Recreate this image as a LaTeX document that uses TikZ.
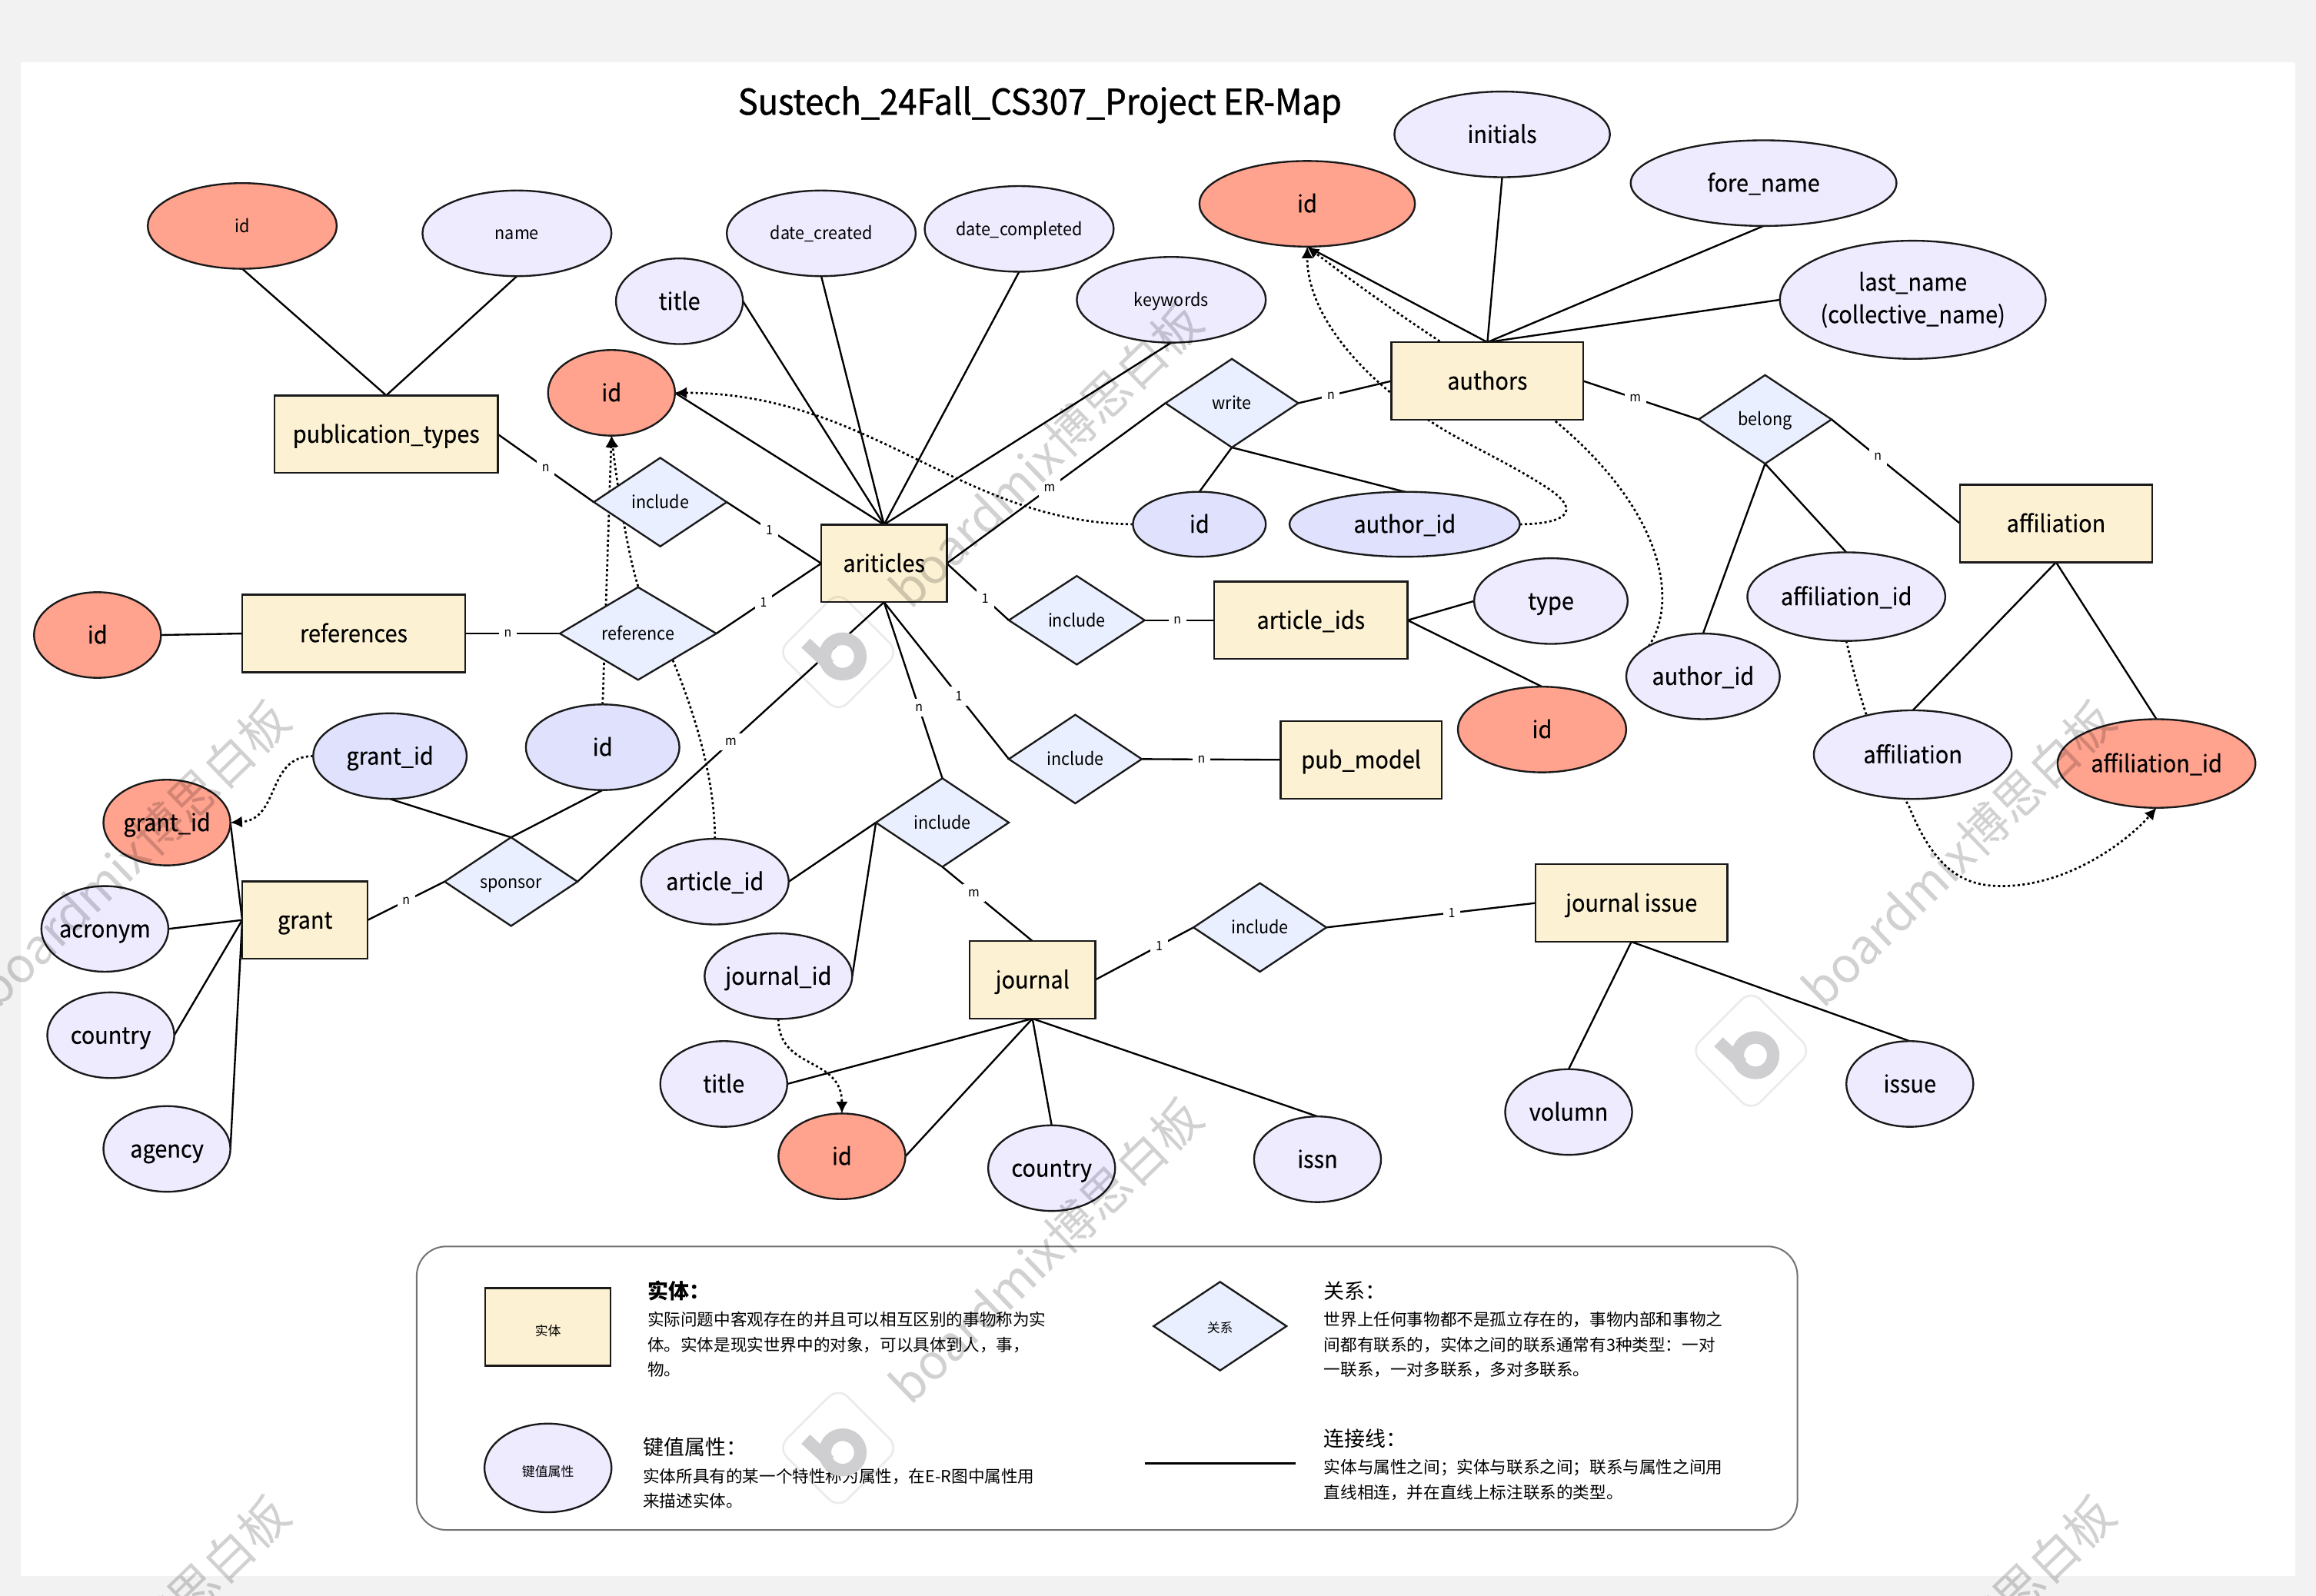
\documentclass[tikz,border=0pt]{standalone}
\usepackage{fontspec}
\setmainfont{Noto Sans CJK SC}
\newfontfamily\titlefont[FakeStretch=0.94,FakeBold=1]{Noto Sans CJK SC}
\newfontfamily\labelfont[FakeStretch=0.94,FakeBold=0.25]{Noto Sans CJK SC}
\newfontfamily\minorfont[FakeStretch=0.94]{Noto Sans CJK SC}
\usetikzlibrary{shapes.geometric}
\usetikzlibrary{backgrounds}
\usetikzlibrary{arrows.meta}

\definecolor{pagegray}{HTML}{F2F2F2}
\definecolor{attrfill}{HTML}{EFEBFF}
\definecolor{fkfill}{HTML}{DFE1FD}
\definecolor{pkfill}{HTML}{FFA28E}
\definecolor{entfill}{HTML}{FCF1D2}
\definecolor{relfill}{HTML}{E9EFFE}
\definecolor{inkline}{HTML}{1A1A1A}
\definecolor{logogray}{HTML}{CFCFD2}

\tikzset{
  bigtext/.style={font=\labelfont\fontsize{9.1}{12.5}\selectfont,text height=8.4pt,text depth=1.8pt},
  smalltext/.style={font=\minorfont\fontsize{6.8}{9}\selectfont,text height=6.3pt,text depth=1.4pt},
  attr/.style={ellipse,draw=inkline,line width=.7pt,fill=attrfill,inner xsep=-8mm,inner ysep=-4mm,outer sep=0pt,
    minimum width=#1*0.04cm,minimum height=1.16cm,bigtext,align=center},
  fkattr/.style={attr=#1,fill=fkfill},
  pkattr/.style={attr=#1,fill=pkfill},
  entity/.style={rectangle,draw=inkline,line width=.7pt,fill=entfill,inner sep=0pt,outer sep=0pt,
    minimum width=#1*0.02cm,minimum height=1.05cm,bigtext},
  relation/.style={diamond,draw=inkline,line width=.7pt,fill=relfill,inner sep=0pt,outer sep=0pt,
    minimum width=1.8cm,minimum height=1.2cm,smalltext},
  link/.style={draw=black,line width=.7pt},
  fklink/.style={draw=black,line width=.8pt,dash pattern=on .9pt off 1pt,-{Latex[length=4.5pt,width=4.5pt]}},
  card/.style={fill=white,inner sep=2pt,font=\minorfont\fontsize{5}{6}\selectfont},
  legendhead/.style={anchor=west,inner sep=0pt,font=\fontsize{8}{10}\selectfont},
  legendbody/.style={anchor=north west,inner sep=0pt,align=left,font=\fontsize{6.4}{9.6}\selectfont},
  mark text/.style={text=black,text opacity=.18,inner sep=0pt,font=\fontsize{18.7}{24}\selectfont,rotate=44},
  logo edge/.style={draw=black,opacity=.08,line width=.8pt,rounded corners=.18cm}
}

\begin{document}
\begin{tikzpicture}[x=0.02cm,y=-0.02cm]
\useasboundingbox (0,0) rectangle (1568,1080.7);

\node [inner sep=0pt,font=\titlefont\fontsize{13.7}{16}\selectfont] (mapTitle) at (704,71) {Sustech\_24Fall\_CS307\_Project ER-Map};

% publication types
\node [pkattr=64,smalltext] (typeId) at (164,153) {id};
\node [attr=64,smalltext] (typeName) at (350,158) {name};
\node [entity=151] (pubTypes) at (261.5,294) {publication\_types};

% articles
\node [entity=85] (articles) at (598.5,381.5) {ariticles};
\node [attr=43] (artTitle) at (460,204) {title};
\node [attr=64,smalltext] (dateCreated) at (556,158) {date\_created};
\node [attr=64,smalltext] (dateCompleted) at (690,155) {date\_completed};
\node [attr=64,smalltext] (keywords) at (793,203) {keywords};
\node [pkattr=43] (artId) at (414,266) {id};
\node [relation] (incTypes) at (447,340) {include};

% references
\node [pkattr=43] (refPk) at (66,430) {id};
\node [entity=151] (references) at (239.5,429) {references};
\node [relation,minimum width=2.12cm] (refRel) at (432,429) {reference};

% authors
\node [entity=130] (authors) at (1007,258) {authors};
\node [pkattr=73] (authorPk) at (885,138) {id};
\node [attr=73] (initials) at (1017,91) {initials};
\node [attr=90] (foreName) at (1194,124) {fore\_name};
\node [attr=90,minimum height=1.6cm,text height=,text depth=] (lastName) at (1295,203) {last\_name\\(collective\_name)};
\node [relation] (write) at (834,273) {write};
\node [fkattr=45,minimum height=.88cm] (writeId) at (812,355) {id};
\node [fkattr=78,minimum height=.88cm] (writeAuthor) at (951,355) {author\_id};

% article ids and pub model
\node [relation,minimum width=1.84cm] (incIds) at (729,420) {include};
\node [entity=131] (articleIds) at (887.5,420) {article\_ids};
\node [attr=52] (idsType) at (1050,407) {type};
\node [pkattr=57] (idsPk) at (1044,494) {id};
\node [relation] (incModel) at (728,514) {include};
\node [entity=109] (pubModel) at (921.5,514.5) {pub\_model};

% affiliation
\node [relation] (belong) at (1195,284) {belong};
\node [attr=52] (belongAuthor) at (1153,458) {author\_id};
\node [attr=67,minimum height=1.2cm] (belongAff) at (1250,404) {affiliation\_id};
\node [entity=130] (affil) at (1392,354.5) {affiliation};
\node [attr=67,minimum height=1.2cm] (affilName) at (1295,511) {affiliation};
\node [pkattr=67,minimum height=1.2cm] (affilPk) at (1460,517) {affiliation\_id};

% grant
\node [entity=85] (grant) at (206.5,623) {grant};
\node [pkattr=43] (grantPk) at (113,557) {grant\_id};
\node [attr=43] (acronym) at (71,629) {acronym};
\node [attr=43] (grantCountry) at (75,701) {country};
\node [attr=43] (agency) at (113,778) {agency};
\node [relation] (sponsor) at (346,597) {sponsor};
\node [fkattr=52] (sponsorGrant) at (264,512) {grant\_id};
\node [fkattr=52] (sponsorId) at (408,506) {id};

% journal
\node [relation] (incJournal) at (638,557) {include};
\node [attr=50] (jArticle) at (484,597) {article\_id};
\node [attr=50] (jJournal) at (527,661) {journal\_id};
\node [entity=85] (journal) at (699,663.5) {journal};
\node [attr=43] (jTitle) at (490,734) {title};
\node [pkattr=43] (jPk) at (570,783) {id};
\node [attr=43] (jCountry) at (712,791) {country};
\node [attr=43] (jIssn) at (892,785) {issn};
\node [relation] (incIssue) at (853,628) {include};
\node [entity=130] (jIssue) at (1104.5,611.5) {journal issue};
\node [attr=43] (volumn) at (1062,753) {volumn};
\node [attr=43] (issue) at (1293,734) {issue};

\begin{pgfonlayer}{background}
\fill [pagegray] (0,0) rectangle (1568,1080.7);
\fill [white] (14,42) rectangle (1554,1067);

\draw [link] (typeId.south) -- (pubTypes.north);
\draw [link] (typeName.south) -- (pubTypes.north);
\draw [link] (pubTypes.east) -- node [card] {n} (incTypes.west);
\draw [link] (incTypes.east) -- node [card,pos=.45] {1} (articles.west);

\draw [link] (artId.east) -- (articles.north);
\draw [link] (artTitle.east) -- (articles.north);
\draw [link] (dateCreated.south) -- (articles.north);
\draw [link] (dateCompleted.south) -- (articles.north);
\draw [link] (keywords.south) -- (articles.north);

\draw [link] (refPk.east) -- (references.west);
\draw [link] (references.east) -- node [card,pos=.45] {n} (refRel.west);
\draw [link] (refRel.east) -- node [card,pos=.45] {1} (articles.west);

\draw [link] (articles.east) -- node [card,pos=.47] {m} (write.west);
\draw [link] (write.east) -- node [card,pos=.35] {n} (authors.west);
\draw [link] (write.south) -- (writeId.north);
\draw [link] (write.south) -- (writeAuthor.north);

\draw [link] (authors.north) -- (authorPk.south);
\draw [link] (authors.north) -- (initials.south);
\draw [link] (authors.north) -- (foreName.south);
\draw [link] (authors.north) -- (lastName.west);
\draw [link] (authors.east) -- node [card,pos=.45] {m} (belong.west);
\draw [link] (belong.east) -- node [card,pos=.36] {n} (affil.west);
\draw [link] (belong.south) -- (belongAuthor.north);
\draw [link] (belong.south) -- (belongAff.north);
\draw [link] (affil.south) -- (affilName.north);
\draw [link] (affil.south) -- (affilPk.north);

\draw [link] (articles.east) -- node [card,pos=.62] {1} (incIds.west);
\draw [link] (incIds.east) -- node [card,pos=.47] {n} (articleIds.west);
\draw [link] (articleIds.east) -- (idsType.west);
\draw [link] (articleIds.east) -- (idsPk.north);
\draw [link] (articles.south) -- node [card,pos=.6] {1} (incModel.west);
\draw [link] (incModel.east) -- node [card,pos=.43] {n} (pubModel.west);

\draw [link] (articles.south) -- node [card,pos=.6] {n} (incJournal.north);
\draw [link] (incJournal.south) -- node [card,pos=.35] {m} (journal.north);
\draw [link] (incJournal.west) -- (jArticle.east);
\draw [link] (incJournal.west) -- (jJournal.east);
\draw [link] (journal.east) -- node [card,pos=.65] {1} (incIssue.west);
\draw [link] (incIssue.east) -- node [card,pos=.6] {1} (jIssue.west);
\draw [link] (jIssue.south) -- (volumn.north);
\draw [link] (jIssue.south) -- (issue.north);
\draw [link] (journal.south) -- (jTitle.east);
\draw [link] (journal.south) -- (jPk.east);
\draw [link] (journal.south) -- (jCountry.north);
\draw [link] (journal.south) -- (jIssn.north);

\draw [link] (grant.east) -- node [card] {n} (sponsor.west);
\draw [link] (sponsor.east) -- node [card] {m} (articles.south);
\draw [link] (sponsor.north) -- (sponsorGrant.south);
\draw [link] (sponsor.north) -- (sponsorId.south);
\draw [link] (grant.west) -- (grantPk.east);
\draw [link] (grant.west) -- (acronym.east);
\draw [link] (grant.west) -- (grantCountry.east);
\draw [link] (grant.west) -- (agency.east);

\draw [fklink] (writeId.west) .. controls (650,354) and (590,266) .. (artId.east);
\draw [fklink] (writeAuthor.east) .. controls (1050,355) and (1075,350) .. (1050,332) .. controls (1020,312) and (990,300) .. (968,285) .. controls (925,258) and (885,215) .. (authorPk.south);
\draw [fklink] (belongAuthor.north west) .. controls (1135,410) and (1130,350) .. (1054,286) .. controls (1020,258) and (960,225) .. (authorPk.south);
\draw [fklink] (belongAff.south) .. controls (1256,460) and (1268,510) .. (1292,545) .. controls (1310,590) and (1330,600) .. (1355,600) .. controls (1400,600) and (1440,570) .. (affilPk.south);
\draw [fklink] (sponsorId.north) -- (artId.south);
\draw [fklink] (jArticle.north) .. controls (484,520) and (465,460) .. (432,397) .. controls (425,375) and (418,330) .. (artId.south);
\draw [fklink] (sponsorGrant.west) .. controls (180,512) and (190,555) .. (grantPk.east);
\draw [fklink] (jJournal.south) .. controls (527,725) and (570,715) .. (jPk.north);
\end{pgfonlayer}

% legend
\node [rectangle,draw=black!55,line width=.6pt,rounded corners=.4cm,minimum width=18.7cm,minimum height=3.84cm,inner sep=0pt] (legendBox) at (749.5,940) {};
\node [entity=85,font=\fontsize{5}{6}\selectfont] (keyEntity) at (371,898.5) {实体};
\node [relation,font=\fontsize{5}{6}\selectfont] (keyRelation) at (826,898) {关系};
\node [attr=43,minimum height=1.2cm,font=\fontsize{5}{6}\selectfont] (keyAttr) at (371,994) {键值属性};
\coordinate (keyLineA) at (775,991);
\coordinate (keyLineB) at (877,991);
\draw [black,line width=.9pt] (keyLineA) -- (keyLineB);

\node [legendhead,font=\bfseries\fontsize{8}{10}\selectfont] (headEntity) at (438,874) {实体：};
\node [legendbody] (bodyEntity) at (438,888) {实际问题中客观存在的并且可以相互区别的事物称为实\\体。实体是现实世界中的对象，可以具体到人，事，\\物。};
\node [legendhead] (headRelation) at (896,874) {关系：};
\node [legendbody] (bodyRelation) at (896,888) {世界上任何事物都不是孤立存在的，事物内部和事物之\\间都有联系的，实体之间的联系通常有3种类型：一对\\一联系，一对多联系，多对多联系。};
\node [legendhead] (headAttr) at (435,980) {键值属性：};
\node [legendbody] (bodyAttr) at (435,994) {实体所具有的某一个特性称为属性，在E-R图中属性用\\来描述实体。};
\node [legendhead] (headLine) at (896,974) {连接线：};
\node [legendbody] (bodyLine) at (896,988) {实体与属性之间；实体与联系之间；联系与属性之间用\\直线相连，并在直线上标注联系的类型。};

% watermark
\begin{scope}
\clip (0,0) rectangle (1568,1080.7);
\node [mark text] (markA) at (708,308) {boardmix博思白板};
\node [mark text] (markB) at (1326,578) {boardmix博思白板};
\node [mark text] (markC) at (708,847) {boardmix博思白板};
\node [mark text] (markD) at (90,578) {boardmix博思白板};
\node [mark text] (markE) at (90,1116) {boardmix博思白板};
\node [mark text] (markF) at (1326,1116) {boardmix博思白板};
\end{scope}

\begin{scope}[shift={(567.5,441.5)}]
\draw [logo edge,rotate=45] (-29,-29) rectangle (29,29);
\draw [logogray,line width=.17cm] (3,3) circle [radius=12];
\draw [logogray,line width=.17cm] (-22,-6) -- (-6,9);
\end{scope}
\begin{scope}[shift={(1185.5,711.5)}]
\draw [logo edge,rotate=45] (-29,-29) rectangle (29,29);
\draw [logogray,line width=.17cm] (3,3) circle [radius=12];
\draw [logogray,line width=.17cm] (-22,-6) -- (-6,9);
\end{scope}
\begin{scope}[shift={(567.5,980.5)}]
\draw [logo edge,rotate=45] (-29,-29) rectangle (29,29);
\draw [logogray,line width=.17cm] (3,3) circle [radius=12];
\draw [logogray,line width=.17cm] (-22,-6) -- (-6,9);
\end{scope}
\end{tikzpicture}
\end{document}
